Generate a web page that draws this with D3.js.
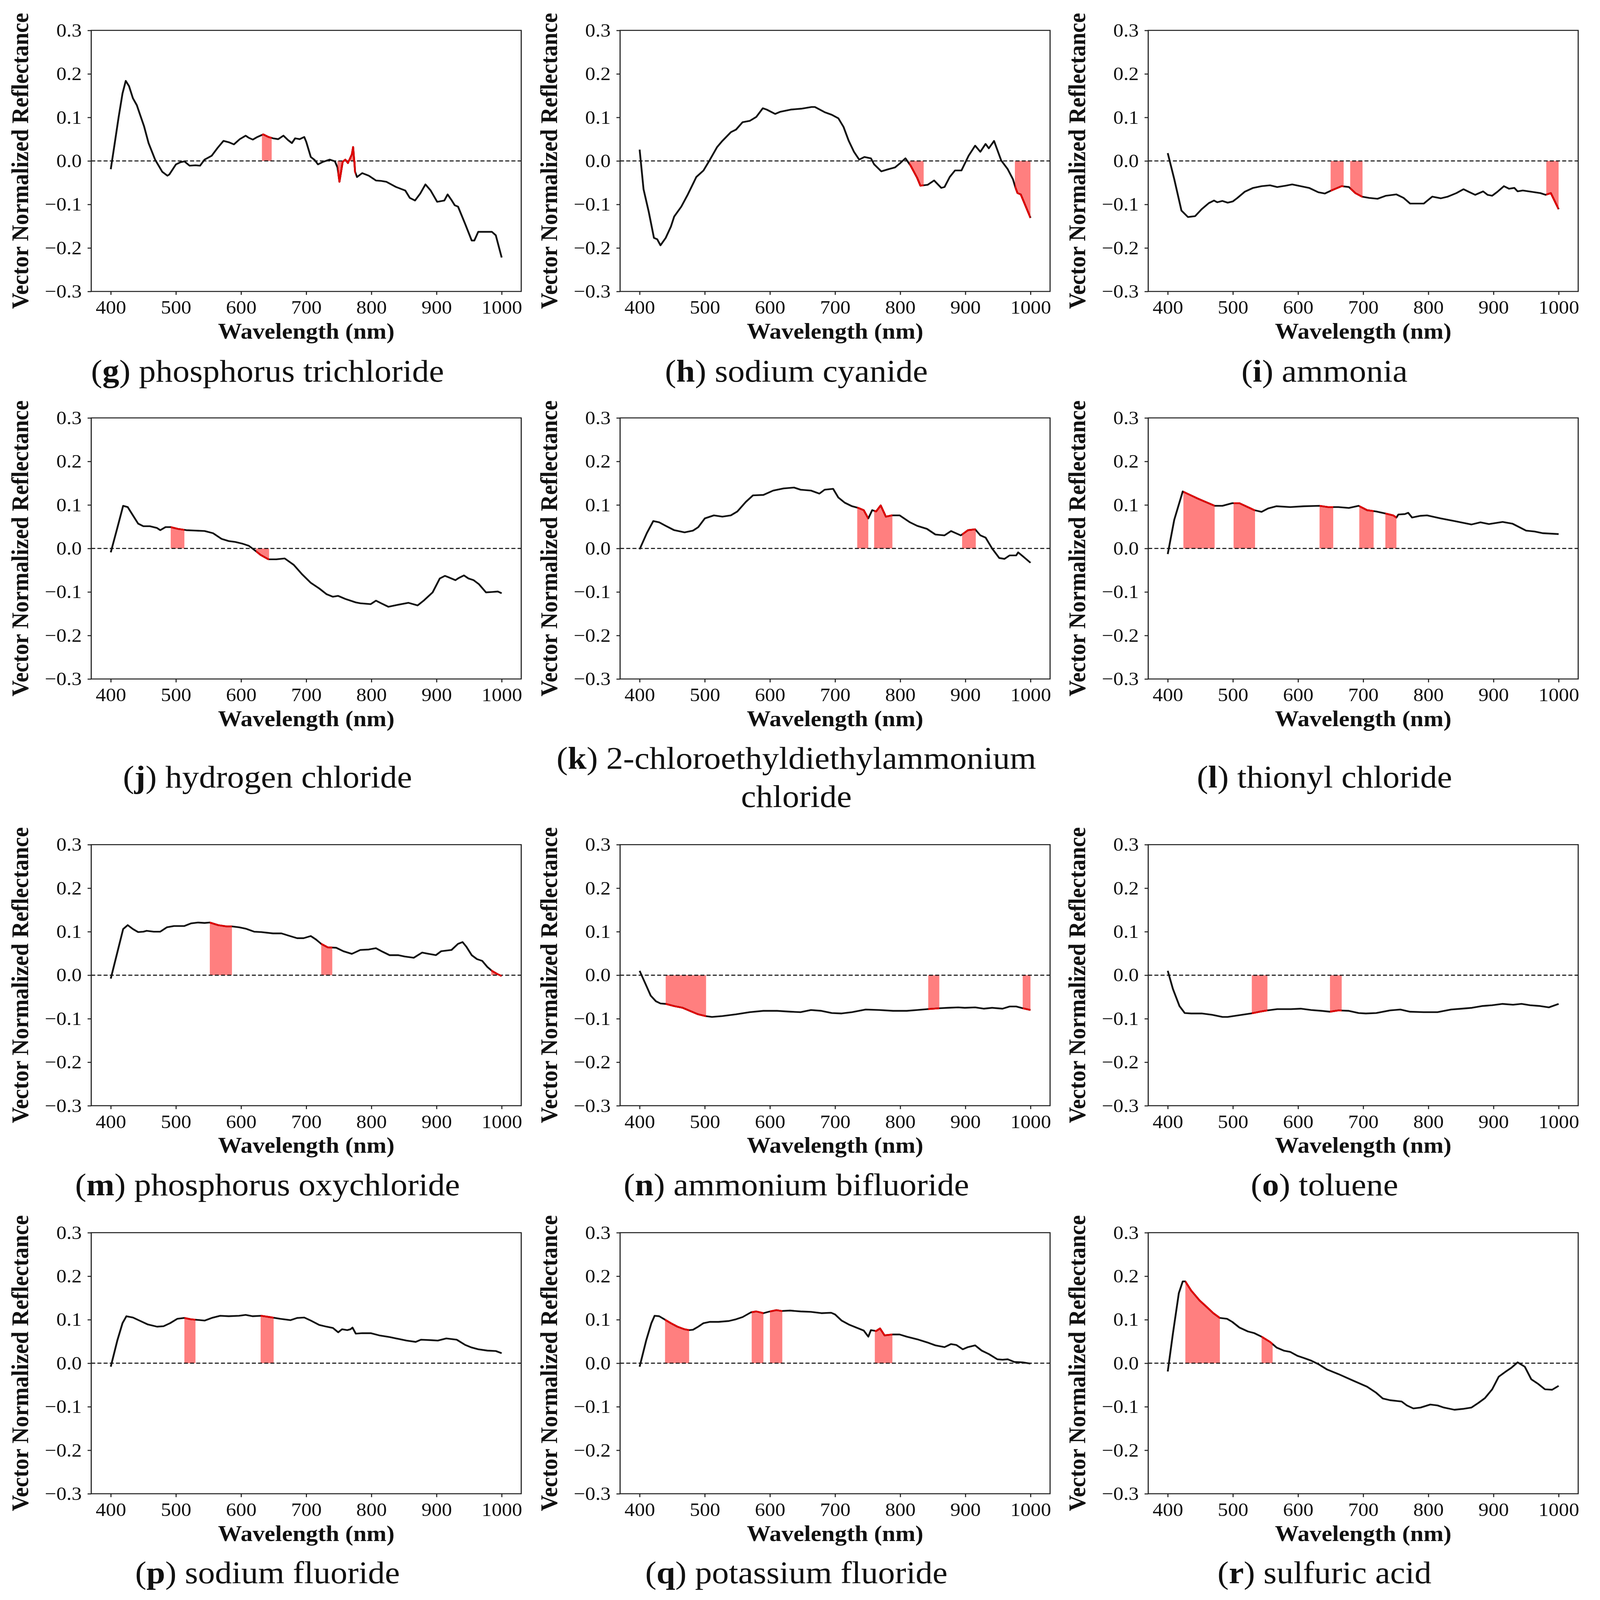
<!DOCTYPE html>
<html><head><meta charset="utf-8">
<script src="https://cdn.jsdelivr.net/npm/d3@7"></script>
<style>
html,body{margin:0;padding:0;width:100%;height:100%;overflow:hidden;background:#fff}
#c{display:block;width:100vw;height:100vh}
</style>
</head><body>
<svg id="c" viewBox="0 0 4402 4713" preserveAspectRatio="none" xmlns="http://www.w3.org/2000/svg"></svg>
<script>
// ---------------- DATA ----------------
const xTicks = [400, 500, 600, 700, 800, 900, 1000];
const yTicks = [-0.3, -0.2, -0.1, 0, 0.1, 0.2, 0.3];
const letters = ["g","h","i","j","k","l","m","n","o","p","q","r"];
const names = ["phosphorus trichloride","sodium cyanide","ammonia","hydrogen chloride",
  "2-chloroethyldiethylammonium|chloride","thionyl chloride","phosphorus oxychloride",
  "ammonium bifluoride","toluene","sodium fluoride","potassium fluoride","sulfuric acid"];
const xLabel = "Wavelength (nm)";
const yLabel = "Vector Normalized Reflectance";

const gSpec = [[400,-0.019],[406,0.04],[412,0.1],[418,0.155],[423,0.184],[428,0.172],[434,0.144],[440,0.128],[445,0.106],[451,0.08],[458,0.041],[468,0.003],[479,-0.025],[487,-0.034],[490,-0.031],[500,-0.008],[507,-0.003],[513,-0.001],[521,-0.011],[530,-0.01],[537,-0.011],[544,0.003],[555,0.012],[564,0.03],[573,0.046],[581,0.043],[589,0.038],[598,0.05],[607,0.058],[612,0.053],[618,0.049],[625,0.055],[634,0.061],[642,0.055],[649,0.052],[657,0.05],[665,0.058],[672,0.048],[678,0.041],[683,0.052],[690,0.05],[697,0.055],[700,0.044],[707,0.009],[713,0.002],[718,-0.008],[726,-0.002],[736,0.003],[744,-0.001],[748,-0.015],[751,-0.048],[756,-0.002],[760,0.003],[764,-0.005],[770,0.015],[772,0.032],[775,-0.025],[778,-0.037],[786,-0.028],[796,-0.034],[807,-0.045],[815,-0.046],[823,-0.048],[838,-0.06],[852,-0.068],[859,-0.085],[867,-0.091],[875,-0.075],[883,-0.054],[891,-0.068],[901,-0.094],[912,-0.091],[917,-0.077],[923,-0.09],[928,-0.102],[933,-0.105],[944,-0.145],[954,-0.183],[958,-0.183],[964,-0.163],[975,-0.163],[985,-0.163],[991,-0.171],[1000,-0.222]];
const hSpec = [[400,0.026],[406,-0.065],[414,-0.117],[422,-0.177],[427,-0.18],[432,-0.194],[440,-0.177],[448,-0.151],[453,-0.128],[464,-0.105],[474,-0.077],[487,-0.037],[498,-0.022],[508,0.003],[519,0.032],[527,0.046],[540,0.066],[548,0.072],[558,0.089],[569,0.092],[579,0.101],[589,0.121],[595,0.118],[608,0.108],[616,0.113],[632,0.118],[648,0.12],[664,0.124],[669,0.124],[684,0.112],[695,0.106],[705,0.098],[713,0.078],[721,0.046],[729,0.021],[737,0.003],[745,0.009],[755,0.006],[760,-0.008],[771,-0.024],[782,-0.019],[792,-0.015],[800,-0.005],[808,0.006],[816,-0.011],[826,-0.039],[831,-0.057],[842,-0.055],[852,-0.045],[863,-0.062],[868,-0.06],[876,-0.037],[884,-0.022],[894,-0.022],[905,0.012],[915,0.035],[923,0.021],[931,0.039],[936,0.029],[944,0.046],[955,0.001],[965,-0.019],[973,-0.042],[977,-0.062],[980,-0.074],[985,-0.077],[1000,-0.131]];
const iSpec = [[400,0.018],[410,-0.042],[421,-0.114],[431,-0.129],[442,-0.127],[452,-0.111],[463,-0.097],[471,-0.091],[476,-0.095],[484,-0.092],[492,-0.096],[500,-0.093],[507,-0.085],[518,-0.071],[531,-0.062],[544,-0.058],[557,-0.056],[568,-0.06],[581,-0.057],[591,-0.054],[604,-0.058],[617,-0.062],[631,-0.072],[641,-0.075],[651,-0.068],[667,-0.058],[678,-0.06],[688,-0.074],[698,-0.082],[709,-0.085],[722,-0.087],[735,-0.08],[751,-0.077],[762,-0.085],[772,-0.098],[793,-0.098],[806,-0.082],[819,-0.086],[830,-0.082],[843,-0.074],[854,-0.065],[862,-0.071],[872,-0.078],[884,-0.07],[891,-0.078],[898,-0.08],[906,-0.071],[916,-0.058],[924,-0.064],[932,-0.062],[937,-0.07],[945,-0.068],[959,-0.071],[972,-0.074],[980,-0.078],[988,-0.074],[1000,-0.111]];
const jSpec = [[400,-0.009],[410,0.047],[419,0.098],[426,0.095],[434,0.076],[442,0.057],[450,0.051],[460,0.051],[471,0.047],[476,0.042],[484,0.049],[492,0.049],[503,0.045],[516,0.042],[531,0.041],[544,0.04],[557,0.035],[570,0.022],[581,0.017],[591,0.015],[602,0.011],[612,0.006],[620,-0.003],[630,-0.015],[642,-0.025],[654,-0.025],[667,-0.023],[681,-0.038],[694,-0.06],[707,-0.079],[720,-0.092],[731,-0.105],[741,-0.111],[749,-0.109],[760,-0.116],[776,-0.124],[783,-0.126],[799,-0.128],[807,-0.12],[815,-0.126],[826,-0.134],[839,-0.13],[857,-0.125],[871,-0.131],[881,-0.119],[894,-0.101],[905,-0.069],[913,-0.063],[918,-0.066],[929,-0.073],[934,-0.068],[942,-0.062],[949,-0.069],[957,-0.073],[965,-0.082],[976,-0.101],[986,-0.1],[994,-0.099],[1000,-0.103]];
const kSpec = [[400,-0.002],[411,0.035],[421,0.063],[430,0.06],[440,0.052],[453,0.042],[469,0.037],[482,0.041],[490,0.049],[500,0.069],[514,0.076],[527,0.073],[540,0.076],[550,0.085],[563,0.107],[574,0.122],[590,0.123],[605,0.133],[621,0.138],[637,0.14],[647,0.135],[663,0.133],[676,0.126],[684,0.135],[697,0.137],[705,0.117],[715,0.105],[726,0.097],[736,0.093],[744,0.088],[751,0.069],[757,0.088],[763,0.085],[770,0.099],[778,0.073],[787,0.076],[799,0.076],[815,0.06],[826,0.052],[841,0.045],[854,0.032],[868,0.03],[878,0.04],[893,0.03],[904,0.042],[915,0.044],[923,0.03],[931,0.025],[941,0],[952,-0.022],[960,-0.024],[968,-0.016],[978,-0.016],[981,-0.009],[989,-0.019],[1000,-0.033]];
const lSpec = [[400,-0.013],[410,0.066],[423,0.131],[447,0.114],[472,0.098],[484,0.098],[499,0.104],[510,0.104],[523,0.095],[533,0.088],[544,0.084],[554,0.092],[567,0.097],[588,0.095],[609,0.097],[633,0.098],[646,0.095],[662,0.095],[678,0.093],[693,0.098],[706,0.088],[720,0.085],[735,0.08],[746,0.076],[751,0.071],[754,0.078],[764,0.079],[769,0.082],[775,0.071],[788,0.075],[798,0.076],[819,0.069],[840,0.063],[866,0.055],[880,0.06],[893,0.056],[914,0.061],[929,0.057],[950,0.041],[963,0.039],[976,0.035],[1000,0.033]];
const mSpec = [[400,-0.008],[410,0.052],[419,0.106],[426,0.115],[434,0.106],[442,0.099],[450,0.1],[455,0.102],[466,0.1],[476,0.1],[486,0.11],[497,0.113],[513,0.113],[523,0.119],[534,0.121],[544,0.12],[552,0.121],[565,0.115],[578,0.112],[586,0.112],[597,0.11],[607,0.107],[620,0.1],[631,0.099],[649,0.096],[662,0.096],[675,0.09],[686,0.085],[696,0.085],[707,0.09],[715,0.082],[723,0.072],[733,0.064],[746,0.063],[757,0.055],[770,0.049],[783,0.058],[796,0.059],[807,0.062],[817,0.054],[828,0.046],[841,0.046],[851,0.043],[865,0.04],[878,0.052],[888,0.049],[899,0.046],[907,0.055],[923,0.058],[933,0.072],[940,0.076],[946,0.065],[954,0.046],[962,0.037],[970,0.033],[978,0.019],[985,0.01],[993,0.003],[1000,-0.002]];
const nSpec = [[400,0.01],[409,-0.02],[417,-0.047],[425,-0.06],[432,-0.065],[440,-0.066],[453,-0.071],[466,-0.075],[477,-0.082],[490,-0.09],[501,-0.094],[511,-0.096],[527,-0.094],[548,-0.09],[569,-0.085],[590,-0.082],[611,-0.082],[632,-0.084],[647,-0.085],[663,-0.08],[679,-0.082],[695,-0.087],[710,-0.088],[726,-0.085],[747,-0.079],[768,-0.08],[789,-0.082],[810,-0.082],[826,-0.08],[842,-0.078],[860,-0.076],[873,-0.075],[889,-0.074],[899,-0.075],[915,-0.074],[928,-0.077],[941,-0.075],[957,-0.077],[968,-0.072],[978,-0.072],[988,-0.076],[1000,-0.08]];
const oSpec = [[400,0.01],[408,-0.032],[418,-0.071],[426,-0.087],[436,-0.088],[452,-0.088],[468,-0.091],[484,-0.096],[492,-0.096],[505,-0.093],[528,-0.088],[541,-0.084],[553,-0.081],[568,-0.078],[589,-0.078],[604,-0.077],[620,-0.08],[636,-0.082],[649,-0.084],[662,-0.081],[678,-0.082],[693,-0.087],[704,-0.088],[720,-0.087],[741,-0.081],[757,-0.079],[772,-0.084],[793,-0.085],[814,-0.085],[835,-0.079],[851,-0.077],[867,-0.075],[882,-0.071],[898,-0.069],[914,-0.066],[930,-0.068],[943,-0.066],[956,-0.069],[972,-0.071],[985,-0.074],[1000,-0.066]];
const pSpec = [[400,-0.008],[410,0.052],[418,0.092],[424,0.108],[434,0.105],[444,0.098],[457,0.089],[471,0.084],[481,0.085],[491,0.092],[502,0.102],[513,0.104],[523,0.101],[544,0.098],[555,0.104],[568,0.109],[581,0.108],[597,0.109],[607,0.111],[618,0.108],[631,0.109],[644,0.106],[660,0.102],[676,0.099],[686,0.104],[697,0.105],[707,0.098],[720,0.088],[731,0.084],[741,0.081],[749,0.071],[755,0.078],[763,0.076],[768,0.078],[771,0.082],[776,0.068],[786,0.069],[799,0.069],[812,0.064],[828,0.06],[841,0.056],[854,0.052],[868,0.049],[876,0.054],[891,0.053],[902,0.052],[915,0.057],[931,0.054],[944,0.042],[954,0.036],[964,0.032],[978,0.029],[991,0.028],[1000,0.023]];
const qSpec = [[400,-0.008],[410,0.052],[418,0.092],[423,0.109],[430,0.108],[439,0.1],[448,0.092],[458,0.084],[469,0.078],[476,0.076],[482,0.077],[490,0.084],[498,0.092],[508,0.095],[521,0.095],[537,0.097],[548,0.101],[558,0.106],[571,0.117],[579,0.119],[590,0.115],[600,0.119],[610,0.122],[618,0.12],[631,0.121],[647,0.119],[663,0.118],[679,0.115],[694,0.116],[700,0.112],[710,0.098],[721,0.089],[734,0.081],[744,0.075],[751,0.061],[755,0.076],[763,0.074],[769,0.08],[776,0.064],[787,0.066],[799,0.066],[810,0.061],[826,0.055],[841,0.048],[854,0.041],[868,0.037],[878,0.044],[886,0.042],[896,0.032],[904,0.037],[915,0.041],[925,0.029],[936,0.021],[949,0.009],[957,0.008],[965,0.009],[975,0.003],[988,0.002],[1000,-0.001]];
const rSpec = [[400,-0.019],[408,0.069],[417,0.161],[423,0.188],[427,0.188],[436,0.167],[449,0.144],[460,0.129],[470,0.115],[480,0.104],[491,0.102],[499,0.095],[510,0.082],[523,0.073],[533,0.069],[544,0.061],[557,0.049],[567,0.036],[578,0.029],[588,0.026],[599,0.017],[609,0.012],[620,0.006],[631,-0.002],[644,-0.014],[662,-0.025],[683,-0.039],[706,-0.054],[720,-0.068],[730,-0.081],[741,-0.085],[759,-0.088],[767,-0.097],[777,-0.104],[788,-0.102],[803,-0.095],[814,-0.097],[824,-0.102],[840,-0.107],[853,-0.105],[866,-0.102],[877,-0.091],[887,-0.08],[898,-0.06],[908,-0.031],[919,-0.019],[927,-0.011],[937,0.002],[948,-0.008],[958,-0.037],[969,-0.048],[979,-0.06],[990,-0.061],[1000,-0.052]];

// highlighted wavelength bands (nm)
const gBands = [[632,647],[748,776]];
const hBands = [[814,836],[976,1000]];
const iBands = [[650,670],[680,699],[981,1000]];
const jBands = [[492,513],[623,643]];
const kBands = [[734,751],[760,788],[895,916]];
const lBands = [[424,472],[501,534],[633,654],[694,716],[734,751]];
const mBands = [[552,586],[723,740],[984,1000]];
const nBands = [[440,502],[843,860],[988,1000]];
const oBands = [[529,553],[649,667]];
const pBands = [[513,530],[630,650]];
const qBands = [[439,476],[572,590],[600,619],[761,788]];
const rBands = [[427,480],[544,561]];

const spectra = [gSpec,hSpec,iSpec,jSpec,kSpec,lSpec,mSpec,nSpec,oSpec,pSpec,qSpec,rSpec];
const bands = [gBands,hBands,iBands,jBands,kBands,lBands,mBands,nBands,oBands,pBands,qBands,rBands];

// ---------------- LAYOUT ----------------
const colLeft = [251, 1706, 3159];
const rowTop = [89.5, 1231, 2488, 3631];
const capDy = [1035, 1089, 1033, 1032];
const W = 1183, H = 769;
const serif = "'Liberation Serif','Times New Roman',Times,serif";

const svg = d3.select("#c");
svg.append("rect").attr("width",4402).attr("height",4713).attr("fill","#fff");

const x = d3.scaleLinear().domain([370, 1030]).range([0, W]);
const y = d3.scaleLinear().domain([-0.3, 0.3]).range([H, 0]);
const line = d3.line().x(d => x(d[0])).y(d => y(d[1]));
const area = d3.area().x(d => x(d[0])).y0(y(0)).y1(d => y(d[1]));
const fmtY = d3.format(".1f");

spectra.forEach((data, i) => {
  const col = i % 3, row = Math.floor(i / 3);
  const g = svg.append("g").attr("transform", `translate(${colLeft[col]},${rowTop[row]})`);

  bands[i].forEach((b, j) => {
    const id = `clip${i}_${j}`;
    g.append("clipPath").attr("id", id).append("rect")
      .attr("x", x(b[0])).attr("y", -30).attr("width", x(b[1]) - x(b[0])).attr("height", H + 60);
    g.append("path").datum(data).attr("d", area)
      .attr("fill", "rgba(255,0,0,0.5)").attr("stroke", "none")
      .attr("clip-path", `url(#${id})`);
  });

  g.append("line").attr("x1", 0).attr("x2", W).attr("y1", y(0)).attr("y2", y(0))
    .attr("stroke", "#000").attr("stroke-width", 3).attr("stroke-dasharray", "11,6");

  g.append("path").datum(data).attr("d", line)
    .attr("fill", "none").attr("stroke", "#111").attr("stroke-width", 5).attr("stroke-linejoin", "round");

  bands[i].forEach((b, j) => {
    g.append("path").datum(data).attr("d", line)
      .attr("fill", "none").attr("stroke", "#e00000").attr("stroke-width", 5).attr("stroke-linejoin", "round")
      .attr("clip-path", `url(#clip${i}_${j})`);
  });

  g.append("rect").attr("width", W).attr("height", H)
    .attr("fill", "none").attr("stroke", "#222").attr("stroke-width", 3);

  const ax = g.append("g").attr("transform", `translate(0,${H})`)
    .call(d3.axisBottom(x).tickValues(xTicks).tickSize(10).tickPadding(16).tickFormat(d3.format("d")));
  const ay = g.append("g")
    .call(d3.axisLeft(y).tickValues(yTicks).tickSize(10).tickPadding(16).tickFormat(d => fmtY(d)));
  [ax, ay].forEach(a => {
    a.select(".domain").remove();
    a.attr("font-size", 56).attr("font-family", serif);
    a.selectAll(".tick line").attr("stroke", "#222").attr("stroke-width", 3);
    a.selectAll(".tick text").attr("fill", "#111");
  });

  g.append("text").attr("x", W / 2).attr("y", H + 139).attr("text-anchor", "middle")
    .attr("font-family", serif).attr("font-weight", "bold").attr("font-size", 66).attr("fill", "#111")
    .text(xLabel);
  g.append("text").attr("transform", `translate(-196,${H / 2}) rotate(-90)`)
    .attr("text-anchor", "middle").attr("dominant-baseline", "central")
    .attr("font-family", serif).attr("font-weight", "bold").attr("font-size", 66).attr("fill", "#111")
    .text(yLabel);

  const parts = names[i].split("|");
  const lines = parts.length > 1 ? [1033, 1146] : [capDy[row]];
  lines.forEach((dy, li) => {
    const t = g.append("text").attr("x", 485).attr("y", dy).attr("text-anchor", "middle")
      .attr("font-family", serif).attr("font-size", 93).attr("fill", "#111");
    if (li === 0) {
      t.append("tspan").text("(");
      t.append("tspan").attr("font-weight", "bold").text(letters[i]);
      t.append("tspan").text(") " + parts[0]);
    } else {
      t.text(parts[li]);
    }
  });
});
</script>
</body></html>
